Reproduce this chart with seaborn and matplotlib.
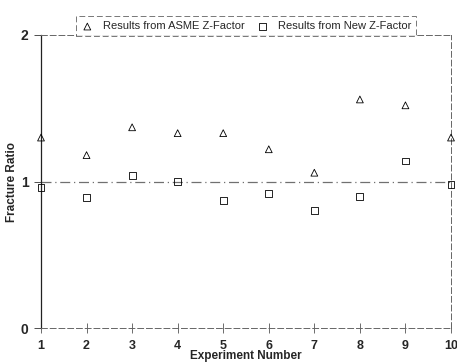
import matplotlib
matplotlib.use("Agg")
import matplotlib.pyplot as plt
import seaborn as sns
import pandas as pd

experiments = [1, 2, 3, 4, 5, 6, 7, 8, 9, 10]
asme_ratio = [1.30, 1.18, 1.37, 1.33, 1.33, 1.22, 1.06, 1.56, 1.52, 1.30]
new_ratio = [0.96, 0.89, 1.04, 1.00, 0.87, 0.92, 0.80, 0.90, 1.14, 0.98]
label_asme = "Results from ASME Z-Factor"
label_new = "Results from New Z-Factor"
y_ticks = [0, 1, 2]

sns.set_theme(style="white")
plt.rcParams["font.family"] = ["Liberation Sans", "DejaVu Sans"]

df_a = pd.DataFrame({"exp": experiments, "ratio": asme_ratio})
df_n = pd.DataFrame({"exp": experiments, "ratio": new_ratio})

fig = plt.figure(figsize=(4.57, 3.64), dpi=100)
ax = fig.add_axes([41 / 457, 1 - 328 / 364, 410 / 457, (328 - 35) / 364])

ax.axhline(1.0, color="#707070", lw=0.9, ls=(0, (8, 3, 1, 3)), zorder=1)

sns.scatterplot(data=df_a, x="exp", y="ratio", marker="^", s=24, color="black",
                facecolor="none", edgecolor="black", linewidth=0.6,
                label=label_asme, ax=ax, zorder=3, clip_on=False)
sns.scatterplot(data=df_n, x="exp", y="ratio", marker="s", s=24, color="black",
                facecolor="none", edgecolor="black", linewidth=0.6,
                label=label_new, ax=ax, zorder=3, clip_on=False)

ax.set_xlim(1, 10)
ax.set_ylim(0, 2)
ax.set_xticks(experiments)
ax.set_yticks(y_ticks)
ax.set_xticklabels([str(e) for e in experiments], fontweight="bold", fontsize=9)
ax.set_yticklabels([str(t) for t in y_ticks], fontweight="bold", fontsize=10)

ax.tick_params(axis="x", direction="inout", length=7, width=0.6, color="#555555", pad=5, bottom=True)
ax.tick_params(axis="y", direction="out", length=5, width=0.6, color="#333333", pad=4, left=True)

ax.set_xlabel("Experiment Number", fontweight="bold", fontsize=8.5, labelpad=-1)
ax.set_ylabel("Fracture Ratio", fontweight="bold", fontsize=8.5, labelpad=2)

for side in ["top", "right", "bottom"]:
    ax.spines[side].set_visible(True)
    ax.spines[side].set_color("#666666")
    ax.spines[side].set_linewidth(0.7)
    ax.spines[side].set_linestyle((0, (6, 3)))
ax.spines["left"].set_color("#222222")
ax.spines["left"].set_linewidth(0.9)

leg = ax.legend(loc="lower center", bbox_to_anchor=(0.5, 0.995), ncol=2,
                frameon=True, fancybox=False, fontsize=8, handletextpad=0.8,
                columnspacing=1.0, borderpad=0.45, handlelength=1.2,
                borderaxespad=0)
leg.get_frame().set_edgecolor("#555555")
leg.get_frame().set_linewidth(0.7)
leg.get_frame().set_linestyle((0, (6, 3)))

fig.savefig("out.png", dpi=100)
